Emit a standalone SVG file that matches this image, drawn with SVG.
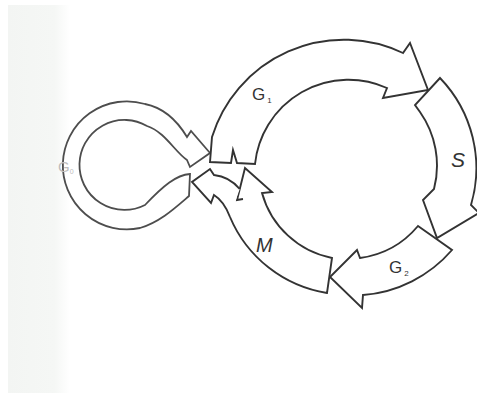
<svg xmlns="http://www.w3.org/2000/svg" width="477" height="393" viewBox="0 0 477 393">
<defs>
<linearGradient id="strip" x1="0" y1="0" x2="1" y2="0">
<stop offset="0" stop-color="#f3f5f3"/>
<stop offset="0.75" stop-color="#f5f7f5"/>
<stop offset="1" stop-color="#ffffff"/>
</linearGradient>
<style>
.ph{fill:#fff;stroke:#333;stroke-width:1.9;stroke-linejoin:miter;stroke-miterlimit:10}
.g0{fill:#fff;stroke:#4d4d4d;stroke-width:1.8}
.lbl{font-family:"Liberation Sans",Arial,sans-serif;font-style:italic;fill:#333}
.up{font-style:normal}
</style>
</defs>
<rect x="0" y="0" width="477" height="393" fill="#fff"/>
<rect x="8" y="5" width="62" height="388" fill="url(#strip)"/>

<g id="phase-g0">
<path class="g0" d="M210,153 L191,131 L187,137 C178,122 165,108 145,104 A64,64 0 1 0 140,228 C160,222 175,208 189,196 L190,174 C176,175 163,186 145,205 A45,45 0 1 1 147,126 C165,132 175,152 187,160 L190,167 Z"/>
<text class="lbl up" x="58" y="172" font-size="15" style="fill:#bdbdbd">G<tspan font-size="7" dy="2">0</tspan></text>
</g>

<g id="phase-g1">
<path class="ph" d="M212,137 A138,138 0 0 1 403,53 L410,43 L428,90 L383,98 L387,88 A94,94 0 0 0 255,164 L237,163 L233,150 L231,163 L210,162 Z"/>
<text class="lbl up" x="252" y="100" font-size="17">G<tspan font-size="8" dx="2" dy="3">1</tspan></text>
</g>

<g id="phase-s">
<path class="ph" d="M440,78 A130,130 0 0 1 471,205 L479,213 L437,238 L423,200 L434,189 A93,93 0 0 0 420,112 L415,105 Z"/>
<text class="lbl" x="451" y="167" font-size="21">S</text>
</g>

<g id="phase-g2">
<path class="ph" d="M418,226 L452,250 A131,131 0 0 1 363,295 L362,308 L330,277 L357,250 L360,258 A92,92 0 0 0 418,226 Z"/>
<text class="lbl up" x="389" y="273" font-size="17">G<tspan font-size="8" dx="2" dy="3">2</tspan></text>
</g>

<g id="phase-m">
<path class="ph" d="M243,199 L237,200 L245,168 L272,192 L262,193 A91,91 0 0 0 332,258 L327,293 A127,127 0 0 1 230,217"/>
<text class="lbl" x="256" y="252" font-size="20">M</text>
</g>

<g id="connectors">
<path class="ph" d="M230,217 C227,209 222,200 214,195 L211,203 L192,182 L210,169 L214,175 C224,176 233,181 239.7,189"/>
</g>
</svg>
